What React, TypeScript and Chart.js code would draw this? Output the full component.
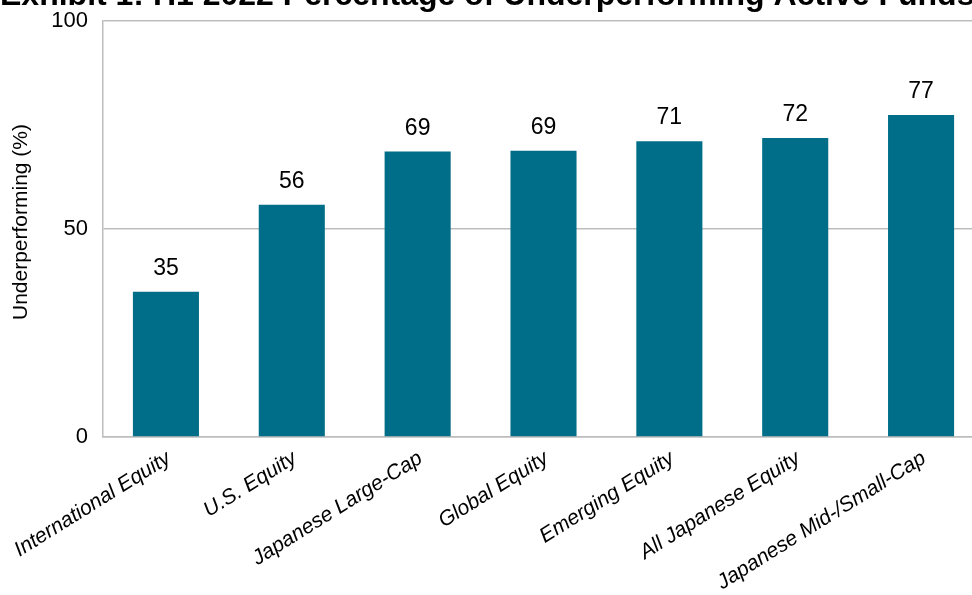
import React, { useEffect, useRef } from "react";
import { Chart, registerables } from "chart.js";

Chart.register(...registerables);

const TITLE = "Exhibit 1: H1 2022 Percentage of Underperforming Active Funds";
const CATEGORIES = [
  "International Equity",
  "U.S. Equity",
  "Japanese Large-Cap",
  "Global Equity",
  "Emerging Equity",
  "All Japanese Equity",
  "Japanese Mid-/Small-Cap",
];
const UNDERPERFORMING = [34.9, 55.8, 68.6, 68.8, 71.1, 71.9, 77.4];
const Y_TICKS = [0, 50, 100];
const Y_TITLE = "Underperforming (%)";

const BAR_COLOR = "#006E88";
const GRID_COLOR = "#bdbdbd";
const FONT = "'Liberation Sans', Arial, sans-serif";

const W = 986;
const H = 595;

export default function App() {
  const ref = useRef<HTMLCanvasElement | null>(null);

  useEffect(() => {
    const canvas = ref.current;
    if (!canvas) return;

    const textPlugin = {
      id: "extraText",
      afterDraw(chart: any) {
        const ctx = chart.ctx;
        ctx.save();
        ctx.font = `bold 32px ${FONT}`;
        ctx.fillStyle = "#000";
        ctx.textAlign = "left";
        ctx.textBaseline = "alphabetic";
        ctx.fillText(TITLE, 0, 5);
        ctx.restore();

        ctx.save();
        ctx.translate(21, 222);
        ctx.rotate(-Math.PI / 2);
        ctx.font = `21px ${FONT}`;
        ctx.fillStyle = "#000";
        ctx.textAlign = "center";
        ctx.textBaseline = "middle";
        ctx.fillText(Y_TITLE, 0, 0);
        ctx.restore();
      },
    };

    const labelPlugin = {
      id: "barLabels",
      afterDatasetsDraw(chart: any) {
        const ctx = chart.ctx;
        const meta = chart.getDatasetMeta(0);
        ctx.save();
        ctx.font = `23px ${FONT}`;
        ctx.fillStyle = "#000";
        ctx.textAlign = "center";
        ctx.textBaseline = "alphabetic";
        meta.data.forEach((bar: any, i: number) => {
          const v = chart.data.datasets[0].data[i] as number;
          ctx.fillText(String(Math.round(v)), bar.x, bar.y - 17);
        });
        ctx.restore();
      },
    };

    const chart = new Chart(canvas, {
      type: "bar",
      data: {
        labels: CATEGORIES,
        datasets: [
          {
            data: UNDERPERFORMING,
            backgroundColor: BAR_COLOR,
            borderWidth: 0,
            barPercentage: 1,
            categoryPercentage: 0.525,
          },
        ],
      },
      options: {
        responsive: false,
        animation: false,
        devicePixelRatio: 1,
        layout: { padding: { left: 0, right: 2, top: 21, bottom: 0 } },
        plugins: {
          legend: { display: false },
          tooltip: { enabled: false },
          title: { display: false },
        },
        scales: {
          x: {
            grid: { display: false, drawTicks: false },
            border: { display: true, color: GRID_COLOR, width: 1.5 },
            ticks: {
              autoSkip: false,
              minRotation: 32,
              maxRotation: 32,
              padding: 9,
              labelOffset: 3,
              color: "#000",
              font: { family: FONT, size: 21, style: "italic" },
            },
            afterFit(scale: any) {
              scale.height = H - 437;
              scale.paddingLeft = 0;
              scale.paddingRight = 0;
            },
          },
          y: {
            min: 0,
            max: 100,
            afterBuildTicks(scale: any) {
              scale.ticks = Y_TICKS.map((v) => ({ value: v }));
            },
            grid: { color: GRID_COLOR, lineWidth: 1.5, drawTicks: false },
            border: { display: true, color: GRID_COLOR, width: 1.5 },
            ticks: {
              padding: 15,
              color: "#000",
              font: { family: FONT, size: 22 },
            },
            afterFit(scale: any) {
              scale.width = 103;
              scale.paddingTop = 0;
              scale.paddingBottom = 0;
            },
          },
        },
      },
      plugins: [labelPlugin, textPlugin],
    });

    return () => chart.destroy();
  }, []);

  return (
    <div
      style={{
        position: "absolute",
        left: 0,
        top: 0,
        width: 972,
        height: H,
        overflow: "hidden",
        background: "#fff",
      }}
    >
      <canvas ref={ref} width={W} height={H} style={{ display: "block" }} />
    </div>
  );
}
